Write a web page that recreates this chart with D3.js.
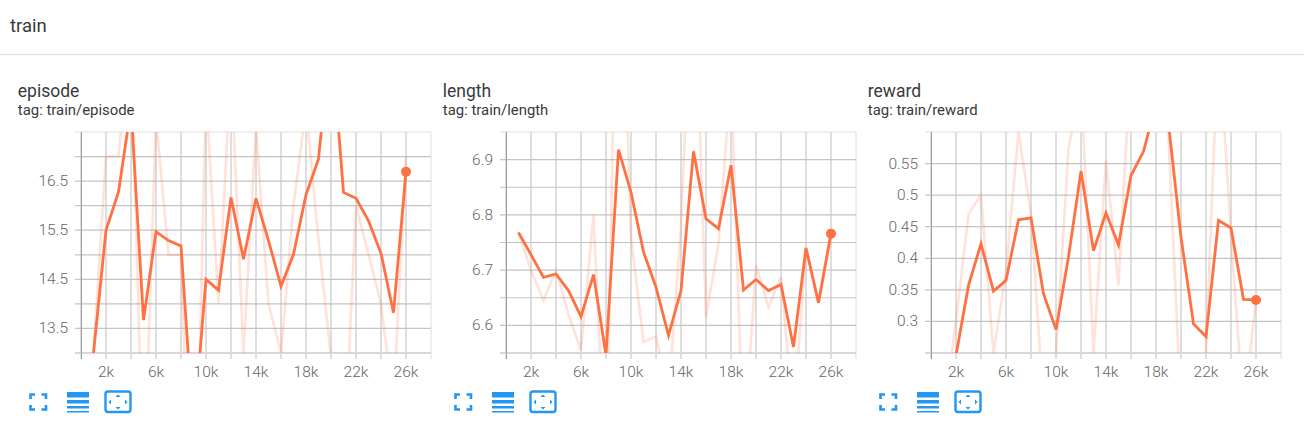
<!DOCTYPE html>
<html>
<head>
<meta charset="utf-8">
<title>train</title>
<script src="https://cdn.jsdelivr.net/npm/d3@7"></script>
<style>
  html, body { margin: 0; padding: 0; background: #fff; }
  svg { display: block; }
  text { font-family: Roboto, sans-serif; }
</style>
</head>
<body>
<div id="chart"></div>
<script>
var steps = [1000,2000,3000,4000,5000,6000,7000,8000,9000,10000,11000,12000,13000,14000,15000,16000,17000,18000,19000,20000,21000,22000,23000,24000,25000,26000];

var episodeSmooth = [13,15.5,16.28,18,13.67,15.47,15.29,15.18,11.4,14.5,14.28,16.17,14.91,16.15,15.29,14.36,15.01,16.22,16.95,19.5,16.27,16.15,15.69,15.03,13.82,16.69];
var episodeRaw = [13,17,17,19.65,10,17.8,15,15,7.7,18.3,14,18.8,13,17.6,14,13,16,18,15.3,12.9,10.6,16,15,14,12,17];

var lengthSmooth = [6.768,6.728,6.687,6.693,6.663,6.616,6.692,6.546,6.918,6.841,6.733,6.669,6.582,6.663,6.915,6.793,6.775,6.89,6.664,6.683,6.663,6.674,6.561,6.74,6.641,6.766];
var lengthRaw = [6.768,6.70,6.645,6.70,6.62,6.555,6.80,6.31,7.48,6.76,6.57,6.58,6.47,6.78,7.31,6.615,6.747,7.05,6.37,6.708,6.633,6.687,6.43,6.74,6.64,6.77];

var rewardSmooth = [0.15,0.246,0.357,0.423,0.348,0.365,0.461,0.464,0.344,0.287,0.402,0.538,0.412,0.472,0.421,0.531,0.569,0.645,0.613,0.4335,0.296,0.276,0.46,0.448,0.335,0.334];
var rewardRaw = [0.15,0.30,0.47,0.50,0.25,0.38,0.60,0.47,0.168,0.25,0.573,0.68,0.25,0.555,0.357,0.72,0.72,0.75,0.59,0.16,0.2,0.25,0.76,0.434,0.16,0.334];

var episodeGrid = [13,13.5,14,14.5,15,15.5,16,16.5,17,17.5];
var episodeLabels = [13.5,14.5,15.5,16.5];
var lengthGrid = [6.55,6.6,6.65,6.7,6.75,6.8,6.85,6.9,6.95];
var lengthLabels = [6.6,6.7,6.8,6.9];
var rewardGrid = [0.25,0.3,0.35,0.4,0.45,0.5,0.55,0.6];
var rewardLabels = [0.3,0.35,0.4,0.45,0.5,0.55];

var xGrid = d3.range(0, 28001, 2000);
var xLabels = [2000,6000,10000,14000,18000,22000,26000];

var panels = [
  {name: "episode", tag: "tag: train/episode", smooth: episodeSmooth, raw: episodeRaw, domain: [13,17.5], grid: episodeGrid, labels: episodeLabels, left: 81},
  {name: "length", tag: "tag: train/length", smooth: lengthSmooth, raw: lengthRaw, domain: [6.55,6.95], grid: lengthGrid, labels: lengthLabels, left: 506},
  {name: "reward", tag: "tag: train/reward", smooth: rewardSmooth, raw: rewardRaw, domain: [0.25,0.6], grid: rewardGrid, labels: rewardLabels, left: 931}
];

var color = "#ff7043";
var blue = "#2196f3";
var top_ = 132, bottom = 353, plotW = 350;

var svg = d3.select("#chart").append("svg")
  .attr("width", 1304)
  .attr("height", 437);

svg.append("text").attr("x", 10).attr("y", 32)
  .attr("font-size", 18.5).attr("fill", "#3a3a3a").text("train");

svg.append("line")
  .attr("x1", 0).attr("x2", 1304).attr("y1", 54.5).attr("y2", 54.5)
  .attr("stroke", "#dcdcdc");

panels.forEach(function (p, i) {
  var x = d3.scaleLinear().domain([0, 28000]).range([p.left, p.left + plotW]);
  var y = d3.scaleLinear().domain(p.domain).range([bottom, top_]);
  var g = svg.append("g");

  g.append("text").attr("x", p.left - 63.2).attr("y", 97)
    .attr("font-size", 17.5).attr("fill", "#3a3a3a").text(p.name);
  g.append("text").attr("x", p.left - 63.2).attr("y", 114.5)
    .attr("font-size", 14.9).attr("fill", "#3a3a3a").text(p.tag);

  // grid
  g.selectAll(".vg").data(xGrid).enter().append("line")
    .attr("x1", x).attr("x2", x).attr("y1", top_).attr("y2", bottom + 6)
    .attr("stroke", "#dedede").attr("stroke-width", function (d, j) { return j == xGrid.length - 1 ? 1 : 2; });
  g.selectAll(".hg").data(p.grid).enter().append("line")
    .attr("x1", p.left - 6).attr("x2", p.left + plotW)
    .attr("y1", y).attr("y2", y)
    .attr("stroke", function (d) {
      return d == p.domain[0] ? "#d8d8d8" : d == p.domain[1] ? "#e0e0e0" : "#c4c4c4";
    })
    .attr("stroke-width", function (d) { return d == p.domain[0] ? 2 : 1.2; });
  g.append("line")
    .attr("x1", p.left + 0.5).attr("x2", p.left + 0.5).attr("y1", top_).attr("y2", bottom + 6)
    .attr("stroke", "#9e9e9e").attr("stroke-width", 1);

  // labels
  g.selectAll(".xl").data(xLabels).enter().append("text")
    .attr("x", x).attr("y", 376.7).attr("text-anchor", "middle")
    .attr("font-size", 15.5).attr("font-weight", 300).attr("fill", "#666666")
    .text(function (d) { return (d / 1000) + "k"; });
  g.selectAll(".yl").data(p.labels).enter().append("text")
    .attr("x", p.left - 13).attr("y", function (d) { return y(d) + 5; })
    .attr("text-anchor", "end").attr("font-size", 15.5).attr("font-weight", 300).attr("fill", "#666666")
    .text(function (d) { return d; });

  // lines
  var clipId = "clip" + i;
  svg.append("clipPath").attr("id", clipId).append("rect")
    .attr("x", p.left).attr("y", top_).attr("width", plotW).attr("height", bottom - top_);
  var line = d3.line().x(function (d, j) { return x(steps[j]); }).y(function (d) { return y(d); });
  var plot = g.append("g").attr("clip-path", "url(#" + clipId + ")");
  plot.append("path").attr("d", line(p.raw)).attr("fill", "none")
    .attr("stroke", color).attr("stroke-opacity", 0.2).attr("stroke-width", 2.6);
  plot.append("path").attr("d", line(p.smooth)).attr("fill", "none")
    .attr("stroke", color).attr("stroke-width", 2.8);
  plot.append("circle")
    .attr("cx", x(steps[steps.length - 1]))
    .attr("cy", y(p.smooth[p.smooth.length - 1]))
    .attr("r", 5).attr("fill", color);

  // toolbar icons
  var ix = p.left - 81;
  var icons = g.append("g").attr("transform", "translate(" + ix + ",0)");
  icons.append("path").attr("fill", "none").attr("stroke", blue).attr("stroke-width", 2.6)
    .attr("d", "M30.5 399V394.5H35M41.5 394.5H46V399M46 405V409.5H41.5M35 409.5H30.5V405");
  icons.append("rect").attr("x", 67).attr("y", 392).attr("width", 22).attr("height", 5.5).attr("fill", blue);
  icons.append("rect").attr("x", 67).attr("y", 400).attr("width", 22).attr("height", 3.5).attr("fill", blue);
  icons.append("rect").attr("x", 67).attr("y", 406).attr("width", 22).attr("height", 2.5).attr("fill", blue);
  icons.append("rect").attr("x", 67).attr("y", 411).attr("width", 22).attr("height", 1.5).attr("fill", blue);
  icons.append("rect").attr("x", 105.5).attr("y", 391.5).attr("width", 25).attr("height", 20.5).attr("rx", 2.5)
    .attr("fill", "none").attr("stroke", blue).attr("stroke-width", 2.4);
  icons.append("path").attr("fill", blue)
    .attr("d", "M118 394.5L120.5 397H115.5ZM118 409.5L115.5 407H120.5ZM108.5 402L111 399.5V404.5ZM127.5 402L125 399.5V404.5Z");
});
</script>
</body>
</html>
